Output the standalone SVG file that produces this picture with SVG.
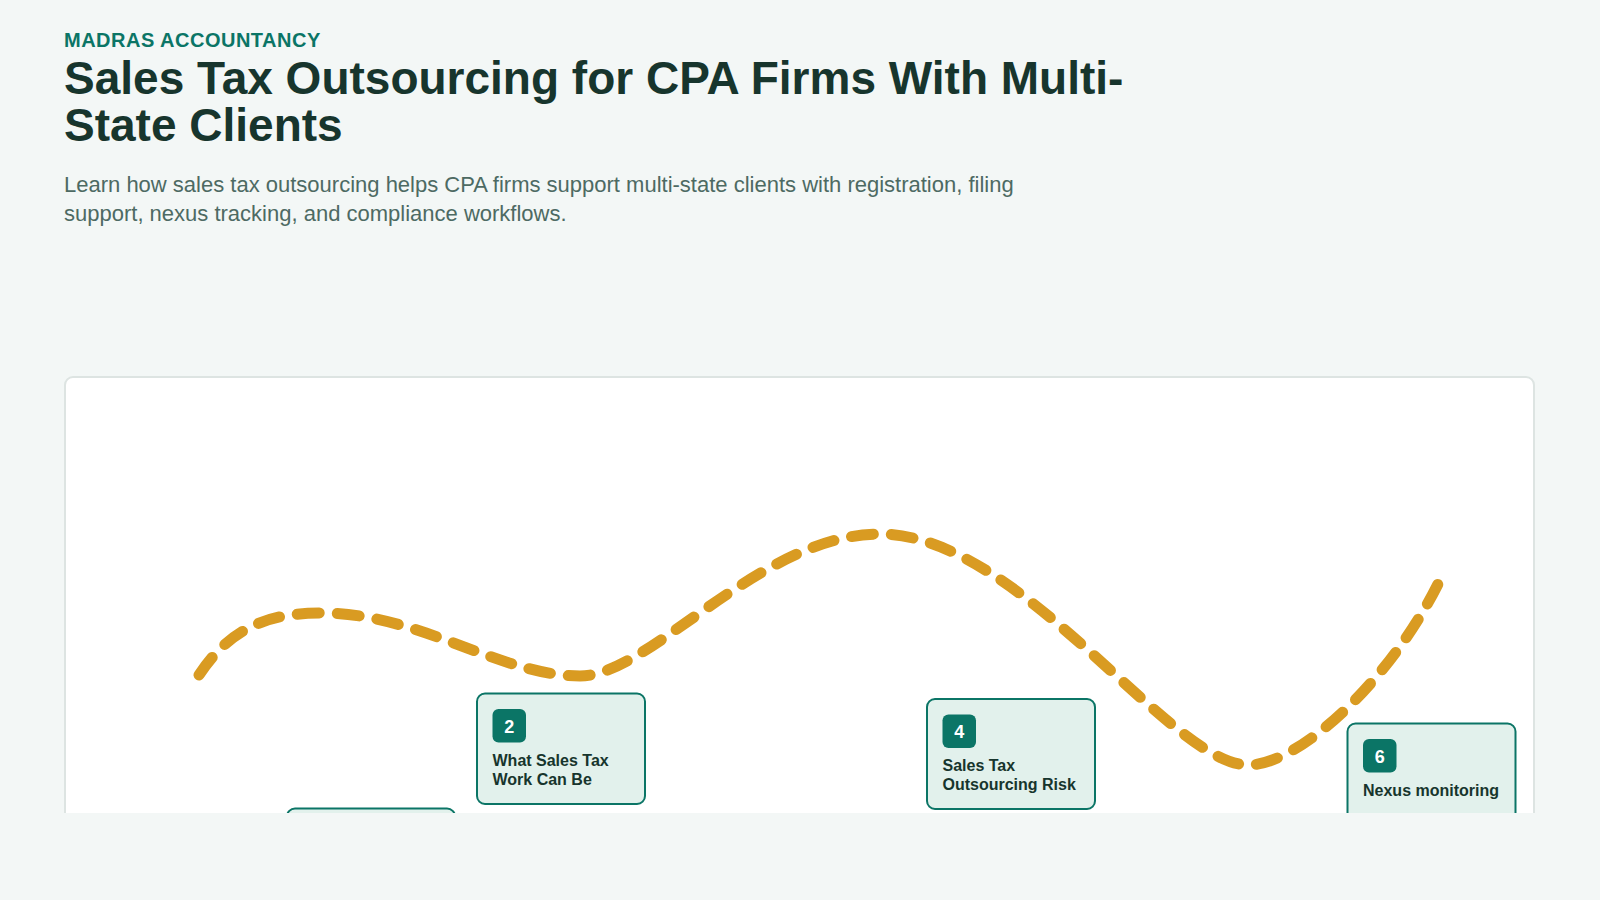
<svg xmlns="http://www.w3.org/2000/svg" width="1600" height="900" viewBox="0 0 1600 900">
  <defs>
    <style>
      .eyebrow { font-family: "Liberation Sans", Arial, sans-serif; font-weight: 700; font-size: 20px; letter-spacing: 0.5px; fill: #0b7566; }
      .title { font-family: "Liberation Sans", Arial, sans-serif; font-weight: 700; font-size: 46px; fill: #17352d; }
      .lede { font-family: "Liberation Sans", Arial, sans-serif; font-size: 22px; fill: #4d6a63; }
      .panel { fill: #ffffff; stroke: #dde4e2; stroke-width: 2; }
      .card { fill: #e2f1ec; stroke: #0b7566; stroke-width: 2; }
      .badge { fill: #0b7566; }
      .num { font-family: "Liberation Sans", Arial, sans-serif; font-weight: 700; font-size: 18px; fill: #ffffff; text-anchor: middle; }
      .label { font-family: "Liberation Sans", Arial, sans-serif; font-weight: 700; font-size: 16px; fill: #17352d; }
      .route { fill: none; stroke: #d99b22; stroke-width: 11; stroke-linecap: round; stroke-dasharray: 22 18; }
    </style>
    <clipPath id="fold">
      <rect x="0" y="0" width="1600" height="813"/>
    </clipPath>
  </defs>

  <rect x="0" y="0" width="1600" height="900" fill="#f3f7f6"/>

  <g id="header">
    <text class="eyebrow" x="64" y="47">MADRAS ACCOUNTANCY</text>
    <text class="title" x="64" y="94">Sales Tax Outsourcing for CPA Firms With Multi-</text>
    <text class="title" x="64" y="141">State Clients</text>
    <text class="lede" x="64" y="192">Learn how sales tax outsourcing helps CPA firms support multi-state clients with registration, filing</text>
    <text class="lede" x="64" y="220.5">support, nexus tracking, and compliance workflows.</text>
  </g>

  <g clip-path="url(#fold)">
    <rect class="panel" x="65" y="377" width="1469" height="520" rx="8"/>

    <g id="connectors">
      <path class="route" d="M199,675 C232,625 272,613 322,613 C420,613 500,676 580,676 C650,676 760,534 880,534 C1020,534 1170,765 1248,765 C1300,765 1390,680 1438,584"/>
    </g>

    <g id="node-1">
      <rect class="card" x="287" y="808.5" width="168" height="110" rx="8"/>
    </g>

    <g id="node-2">
      <rect class="card" x="477" y="693.5" width="168" height="110.5" rx="8"/>
      <rect class="badge" x="492.5" y="709" width="33.5" height="33.5" rx="6"/>
      <text class="num" x="509.25" y="732.5">2</text>
      <text class="label" x="492.5" y="766">What Sales Tax</text>
      <text class="label" x="492.5" y="785">Work Can Be</text>
    </g>

    <g id="node-4">
      <rect class="card" x="927" y="699" width="168" height="110" rx="8"/>
      <rect class="badge" x="942.5" y="714.5" width="33.5" height="33.5" rx="6"/>
      <text class="num" x="959.25" y="738">4</text>
      <text class="label" x="942.5" y="771">Sales Tax</text>
      <text class="label" x="942.5" y="790">Outsourcing Risk</text>
    </g>

    <g id="node-6">
      <rect class="card" x="1347.5" y="723.5" width="168" height="110" rx="8"/>
      <rect class="badge" x="1363" y="739" width="33.5" height="33.5" rx="6"/>
      <text class="num" x="1379.75" y="762.5">6</text>
      <text class="label" x="1363" y="796">Nexus monitoring</text>
    </g>
  </g>
</svg>
